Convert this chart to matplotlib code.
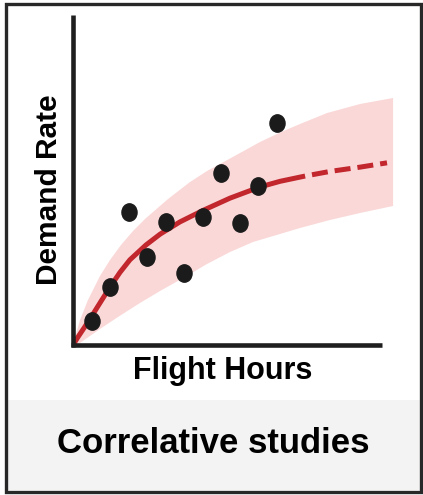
import matplotlib
matplotlib.use("Agg")
import matplotlib.pyplot as plt
import numpy as np
from matplotlib.patches import Rectangle
from matplotlib.path import Path

plt.rcParams['font.family'] = ['Liberation Sans', 'DejaVu Sans']

#-- observed points (flight hours, demand rate), arbitrary units
obs_x = [6, 12, 18, 24, 30, 36, 42, 48, 54, 60, 66]
obs_y = [7.4, 17.7, 40.4, 26.8, 37.2, 21.7, 38.9, 52.2, 37.0, 48.3, 67.2]

#-- fitted curve, solid part and extrapolated (dashed) part
fit_x = [0, 1.6, 3.6, 5.5, 8.7, 12.0, 15.2, 18.4, 23.6, 28.2, 34.6, 42.1,
         50.8, 60.5, 67.0, 75.1]
fit_y = [0, 2.4, 5.2, 7.9, 12.7, 17.6, 22.0, 25.8, 30.3, 33.6, 37.3, 40.8,
         44.5, 47.9, 49.6, 51.2]
ext_x = [75.1, 83.2, 92.9, 101.6]
ext_y = [51.2, 52.6, 53.9, 55.2]

#-- confidence band edges
hi_x = [0, 0.97, 2.27, 4.85, 8.74, 11.97, 15.53, 19.42, 23.30, 30.74, 37.86,
        43.37, 54.05, 60.52, 66.99, 73.46, 82.20, 92.88, 103.56]
hi_y = [0, 3.33, 7.58, 13.64, 20.91, 25.76, 30.30, 34.55, 38.18, 44.24, 49.39,
        52.73, 58.18, 61.52, 64.39, 66.97, 70.30, 73.03, 74.85]
lo_x = [0, 2.27, 5.50, 8.74, 14.56, 21.68, 28.16, 36.25, 43.37, 50.81, 58.25,
        66.99, 73.46, 83.17, 92.88, 103.56]
lo_y = [-0.91, 0.61, 2.73, 4.85, 8.48, 12.73, 16.36, 20.61, 24.55, 28.18, 31.21,
        33.64, 35.45, 37.88, 40.0, 42.12]

W, H = 423, 495
fig = plt.figure(figsize=(W/100, H/100), dpi=100)

def fx(px): return px / W
def fy(py): return 1 - py / H

#-- frame and bottom caption strip
fig.patches.append(Rectangle((fx(6), fy(490)), fx(414), 90/H, transform=fig.transFigure,
                             facecolor='#f2f3f2', edgecolor='none', zorder=0))
fig.patches.append(Rectangle((fx(5.5), fy(491.5)), fx(415), 488/H, transform=fig.transFigure,
                             facecolor='none', edgecolor='#282828', linewidth=2.4, zorder=5))

ax = fig.add_axes([fx(73), fy(360), 327/W, 345/H])
ax.set_xlim(0, 105.8)
ax.set_ylim(-4.55, 100)
ax.axis('off')

ax.fill(hi_x + lo_x[::-1], hi_y + lo_y[::-1], color='#fad8d8', linewidth=0, zorder=1)
ax.plot(fit_x, fit_y, color='#c1272d', linewidth=3.6, solid_capstyle='butt',
        solid_joinstyle='round', zorder=2)
ax.plot(ext_x, ext_y, color='#c1272d', linewidth=3.6, linestyle=(3.2, (3.2, 1.4)),
        dash_capstyle='butt', zorder=2)

circ = Path.unit_circle()
oval = Path(circ.vertices * [0.87, 1.0], circ.codes)
ax.plot(obs_x, obs_y, linestyle='none', marker=oval, markersize=12.5,
        color='#1b1b1b', zorder=3)

#-- axis lines
ax.plot([0, 0], [-0.6, 100], color='#1f1f1f', linewidth=3.3, solid_capstyle='butt',
        zorder=4, clip_on=False)
ax.plot([-0.6, 100], [0, 0], color='#1f1f1f', linewidth=3.3, solid_capstyle='butt',
        zorder=4, clip_on=False)

fig.text(fx(49), fy(190), 'Demand Rate', rotation=90, ha='center', va='center',
         fontsize=21.5, fontweight='bold', color='black')
fig.text(fx(223), fy(379), 'Flight Hours', ha='center', va='baseline',
         fontsize=22, fontweight='bold', color='black')
fig.text(fx(213), fy(453), 'Correlative studies', ha='center', va='baseline',
         fontsize=25, fontweight='bold', color='black')

fig.savefig('out.png', dpi=100)
